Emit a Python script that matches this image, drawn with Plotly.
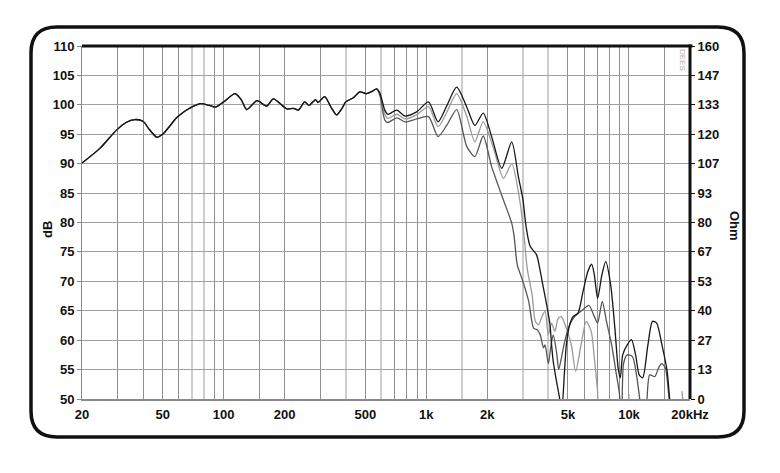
import plotly.graph_objects as go
import numpy as np

# ---- data ----
# all three measurements overlap up to ~570 Hz
freq_low = [20, 24.5, 29.6, 33, 36.5, 40, 43, 46.8, 50, 58.6, 63, 67, 76.5, 85, 91,
            100, 113.8, 122, 130, 146, 163, 176, 205, 221, 234, 251, 264, 284, 292,
            315, 340, 361, 385, 400, 436, 470, 508, 540, 569]
db_low = [90.1, 92.6, 95.7, 97.0, 97.5, 97.2, 95.8, 94.5, 95.0, 97.8, 98.7, 99.3, 100.2, 99.9, 99.6,
          100.5, 101.9, 100.9, 99.2, 100.7, 99.8, 101.0, 99.3, 99.4, 99.1, 100.5, 99.9, 100.9, 100.4,
          101.4, 99.5, 98.3, 99.5, 100.5, 101.2, 102.2, 101.9, 102.3, 102.7]

# black curve
freq_a = [590, 624, 645, 716, 783, 896, 1025, 1143, 1260, 1412, 1584, 1736, 1908, 2100, 2356,
          2638, 2846, 3000, 3100, 3250, 3500, 3650, 3786, 3925, 4076, 4150, 4228, 4390, 4556,
          4650, 4818, 4907, 5097, 5294, 5600, 5935, 6272, 6550, 6745, 7000, 7350, 7680, 8120,
          8520, 8840, 9060, 9311, 9800, 10290, 10780, 11230, 11680, 12400, 13060, 13690,
          14540, 15430, 15860, 16500]
db_a = [102.0, 99.1, 98.4, 99.1, 98.1, 98.8, 100.5, 97.1, 99.8, 103.0, 99.6, 96.5, 98.6, 94.6, 89.2,
        93.7, 87.8, 83.8, 79.5, 76.0, 74.5, 71.7, 68.8, 66.0, 62.6, 59.2, 56.4, 53.0, 49.9,
        47.5, 55.3, 59.2, 62.6, 64.0, 64.6, 68.3, 71.7, 72.9, 71.1, 67.1, 71.1, 73.4, 69.4,
        62.0, 55.3, 53.6, 57.5, 59.2, 60.1, 57.5, 54.1, 53.6, 59.2, 63.2, 62.9,
        59.2, 54.7, 50.2, 46.0]

# light grey curve
freq_b = [590, 624, 645, 716, 783, 896, 1025, 1143, 1260, 1412, 1584, 1736, 1908, 2150, 2403,
          2638, 2890, 3033, 3145, 3327, 3450, 3580, 3717, 3855, 4000, 4150, 4310, 4470, 4640,
          4907, 5195, 5455, 5800, 6153, 6510, 6745, 7000, 7150, 9700, 9980, 10200, 18000,
          18300, 18600]
db_b = [101.8, 98.4, 97.7, 98.4, 97.6, 98.3, 99.7, 96.3, 98.7, 101.9, 98.0, 93.7, 97.1, 92.5, 87.5,
        90.0, 83.8, 77.9, 72.2, 67.7, 63.2, 62.6, 64.0, 64.9, 60.9, 62.9, 61.5, 63.7, 64.0,
        62.0, 59.2, 54.7, 59.2, 63.2, 61.5, 57.0, 51.3, 47.0, 47.0, 50.8, 47.0, 47.0,
        51.3, 47.0]

# dark grey curve
freq_c = [590, 624, 645, 716, 783, 896, 1025, 1143, 1260, 1412, 1584, 1736, 1908, 2100, 2403,
          2638, 2706, 2810, 2920, 3033, 3200, 3387, 3513, 3648, 3786, 3855, 4000, 4100, 4228,
          4390, 4500, 4640, 4818, 5097, 5395, 5935, 6343, 6745, 7000, 7380, 7743, 8210, 8673,
          8940, 9200, 9400, 9800, 10400, 10900, 11300, 11600, 12000, 12650, 13400, 14000,
          14500, 15100, 15750, 16200]
db_c = [101.6, 97.4, 97.0, 97.8, 97.1, 97.6, 98.0, 94.6, 96.5, 99.2, 92.9, 91.2, 94.7, 89.5, 83.8,
        79.9, 77.9, 72.8, 71.1, 69.4, 66.6, 62.0, 61.8, 60.9, 58.7, 59.2, 56.0, 58.5, 60.9,
        58.0, 55.0, 57.0, 59.8, 62.6, 64.0, 65.2, 65.9, 64.0, 62.9, 66.6, 63.2, 59.2, 54.1,
        51.3, 47.0, 56.0, 57.5, 57.2, 54.0, 50.0, 47.0, 47.0, 54.1, 53.8, 55.3,
        56.0, 55.3, 50.2, 46.0]

# axes
grid_freqs = [20, 30, 40, 50, 60, 90, 100, 150, 200, 300, 500, 700, 800, 900, 1000,
              2000, 5000, 6000, 7000, 8000, 9000, 10000, 15000, 20000]
light_grid_freqs = [70, 80, 400, 600, 1500, 3000, 4000]
freq_labels = {20: '20', 50: '50', 100: '100', 200: '200', 500: '500', 1000: '1k',
               2000: '2k', 5000: '5k', 10000: '10k', 20000: '20kHz'}
db_ticks = [50, 55, 60, 65, 70, 75, 80, 85, 90, 95, 100, 105, 110]
ohm_labels = ['0', '13', '27', '40', '53', '67', '80', '93', '107', '120', '133', '147', '160']

# ---- layout geometry (px, in the 780x473 picture) ----
OFF = 8  # page body margin the figure sits in
W, H = 780 - OFF, 473 - OFF
L, T, PW, PH = 82 - OFF, 46 - OFF, 608, 353
R, B = W - L - PW, H - T - PH


def paper(x, y):
    """picture pixel position -> paper coords"""
    return (x - OFF - L) / PW, (T + PH - (y - OFF)) / PH


FONT = dict(family='Liberation Sans Narrow, Liberation Sans, Arial', size=13,
            color='#111', weight='bold')

fig = go.Figure()
for f_hi, d_hi, color in [(freq_b, db_b, '#9a9a9a'),
                          (freq_c, db_c, '#555555'),
                          (freq_a, db_a, '#161616')]:
    fig.add_trace(go.Scatter(
        x=freq_low + f_hi, y=db_low + d_hi, mode='lines',
        line=dict(color=color, width=1.3, shape='spline', smoothing=0.7),
        showlegend=False, hoverinfo='skip'))

# empty trace so the Ohm axis gets drawn
fig.add_trace(go.Scatter(x=[], y=[], yaxis='y2', showlegend=False, hoverinfo='skip'))

fig.update_layout(
    width=W, height=H,
    margin=dict(l=L, r=R, t=T, b=B, autoexpand=False),
    paper_bgcolor='white', plot_bgcolor='white',
    xaxis=dict(
        type='log', range=[np.log10(20), np.log10(20000)],
        tickmode='array', tickvals=grid_freqs,
        ticktext=[freq_labels.get(f, '') for f in grid_freqs],
        showgrid=True, gridcolor='#8f8f8f', gridwidth=1,
        minor=dict(tickmode='array', tickvals=light_grid_freqs, showgrid=True,
                   gridcolor='#cdcdcd', gridwidth=2, ticks=''),
        ticks='', ticklabelstandoff=3,
        showline=True, linecolor='#8a8a8a', linewidth=1.5,
        tickfont=FONT, zeroline=False,
    ),
    yaxis=dict(
        range=[50, 110], tickmode='array', tickvals=db_ticks,
        ticktext=[str(v) for v in db_ticks],
        showgrid=True, gridcolor='#a0a0a0', gridwidth=1,
        ticks='outside', ticklen=4, tickcolor='#888',
        showline=True, linecolor='#8a8a8a', linewidth=1,
        tickfont=FONT, zeroline=False,
    ),
    yaxis2=dict(
        range=[0, 160], overlaying='y', side='right', anchor='x',
        tickmode='array', tickvals=list(np.linspace(0, 160, len(ohm_labels))),
        ticktext=ohm_labels, showgrid=False, zeroline=False,
        ticks='outside', ticklen=4, tickcolor='#111',
        tickfont=FONT,
    ),
)

# thick frame on top and right of the plot area
fig.add_shape(type='line', xref='paper', yref='paper', x0=0, x1=1.004, y0=1, y1=1,
              line=dict(color='#111', width=3))
fig.add_shape(type='line', xref='paper', yref='paper', x0=1, x1=1, y0=0, y1=1.004,
              line=dict(color='#111', width=3))

# rounded outer border
x0, y0, x1, y1, r = 31, 27, 744, 437, 26
pts = {
    'a': paper(x0 + r, y0), 'b': paper(x1 - r, y0), 'c': paper(x1, y0), 'd': paper(x1, y0 + r),
    'e': paper(x1, y1 - r), 'f': paper(x1, y1), 'g': paper(x1 - r, y1), 'h': paper(x0 + r, y1),
    'i': paper(x0, y1), 'j': paper(x0, y1 - r), 'k': paper(x0, y0 + r), 'l': paper(x0, y0),
}
p = {k: f'{v[0]:.5f},{v[1]:.5f}' for k, v in pts.items()}
path = (f"M{p['a']} L{p['b']} Q{p['c']} {p['d']} L{p['e']} Q{p['f']} {p['g']} "
        f"L{p['h']} Q{p['i']} {p['j']} L{p['k']} Q{p['l']} {p['a']} Z")
fig.add_shape(type='path', path=path, xref='paper', yref='paper',
              line=dict(color='#111', width=3.5))

# axis titles
ax, ay = paper(47, 230)
fig.add_annotation(x=ax, y=ay, xref='paper', yref='paper', text='dB', textangle=-90,
                   xanchor='center', yanchor='middle', showarrow=False, font=FONT)
ax, ay = paper(735, 226)
fig.add_annotation(x=ax, y=ay, xref='paper', yref='paper', text='Ohm', textangle=90,
                   xanchor='center', yanchor='middle', showarrow=False, font=FONT)
ax, ay = paper(683, 60)
fig.add_annotation(x=ax, y=ay, xref='paper', yref='paper', text='DEES', textangle=90,
                   xanchor='center', yanchor='middle', showarrow=False,
                   font=dict(family='Liberation Sans', size=8, color='#aaa'))

fig.write_html("out.html")
